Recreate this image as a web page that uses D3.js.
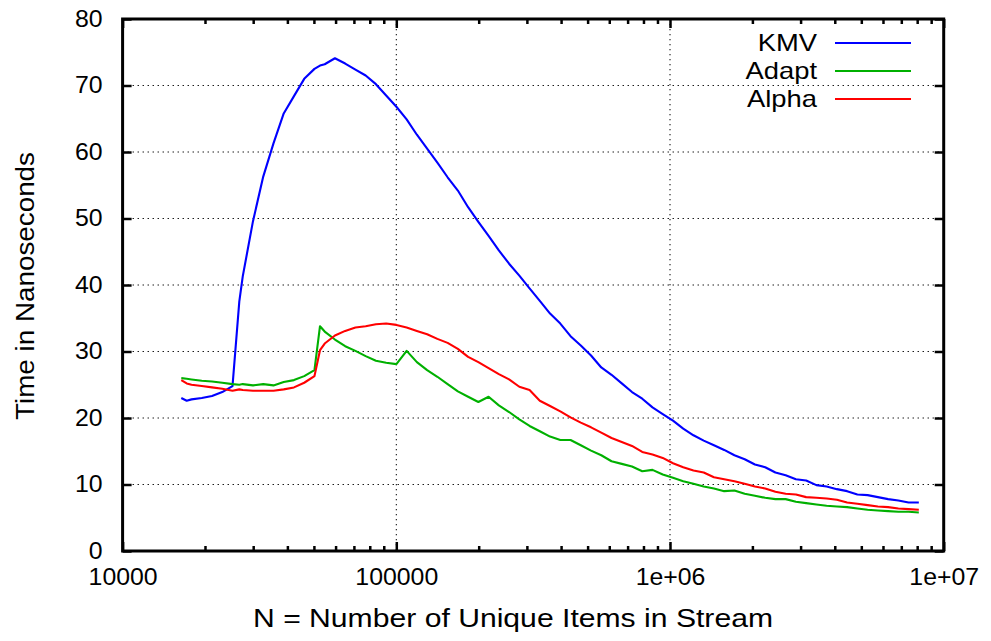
<!DOCTYPE html>
<html>
<head>
<meta charset="utf-8">
<script src="https://cdn.jsdelivr.net/npm/d3@7/dist/d3.min.js"></script>
<style>
  html, body { margin: 0; padding: 0; background: #fff; }
  svg { display: block; }
  text { font-family: "Liberation Sans", Arial, Helvetica, sans-serif; fill: #000; }
</style>
</head>
<body>
<svg id="chart" width="991" height="641"></svg>
<script>
// ---- data ----
const nValues = [16384, 17148, 17859, 19466, 21218, 23127, 25209, 26690, 27478, 29951,
  32646, 35584, 38787, 42278, 46083, 50230, 52630, 54751, 59678, 65050,
  70904, 77285, 84241, 91823, 100087, 109095, 118913, 129615, 141281, 153996,
  167855, 182962, 199429, 217378, 236942, 258266, 281510, 306846, 334463, 364564,
  397375, 433139, 472121, 514612, 560927, 611410, 666437, 726417, 791794, 863056,
  940731, 1025397, 1117682, 1218274, 1327918, 1447431, 1577700, 1719693, 1874465, 2043167,
  2227052, 2427487, 2645960, 2884097, 3143665, 3426595, 3734989, 4071138, 4437540, 4836919,
  5272242, 5746743, 6263950, 6827706, 7442199, 8111997];

const kmv = [23.0, 22.6, 22.8, 23.0, 23.3, 23.9, 24.8, 37.5, 41.3, 49.6,
  56.3, 61.3, 65.8, 68.4, 71.0, 72.5, 73.0, 73.2, 74.1, 73.3,
  72.4, 71.5, 70.2, 68.5, 66.8, 64.9, 62.6, 60.5, 58.4, 56.2,
  54.2, 51.7, 49.5, 47.4, 45.2, 43.2, 41.4, 39.5, 37.6, 35.7,
  34.2, 32.3, 30.9, 29.4, 27.6, 26.5, 25.2, 23.9, 22.9, 21.6,
  20.6, 19.6, 18.4, 17.4, 16.6, 15.9, 15.2, 14.4, 13.8, 13.0,
  12.6, 11.8, 11.4, 10.8, 10.6, 9.9, 9.7, 9.3, 9.0, 8.5,
  8.4, 8.1, 7.8, 7.6, 7.3, 7.3];

const adapt = [26.0, 25.9, 25.8, 25.6, 25.5, 25.3, 25.1, 25.0, 25.1, 24.9,
  25.1, 24.9, 25.4, 25.7, 26.3, 27.2, 33.8, 33.0, 31.8, 30.8,
  30.1, 29.3, 28.6, 28.3, 28.1, 30.1, 28.4, 27.2, 26.2, 25.1,
  24.0, 23.2, 22.4, 23.2, 21.9, 20.9, 19.8, 18.8, 18.0, 17.2,
  16.7, 16.7, 15.9, 15.1, 14.4, 13.5, 13.1, 12.7, 12.0, 12.2,
  11.5, 11.0, 10.5, 10.1, 9.7, 9.4, 9.0, 9.1, 8.6, 8.3,
  8.0, 7.8, 7.8, 7.4, 7.2, 7.0, 6.8, 6.7, 6.6, 6.4,
  6.2, 6.1, 6.0, 5.9, 5.9, 5.8];

const alpha = [25.7, 25.2, 25.0, 24.8, 24.6, 24.4, 24.1, 24.3, 24.2, 24.1,
  24.1, 24.1, 24.3, 24.6, 25.3, 26.3, 30.2, 31.2, 32.4, 33.1,
  33.6, 33.8, 34.1, 34.2, 34.0, 33.6, 33.1, 32.6, 31.9, 31.3,
  30.4, 29.2, 28.4, 27.5, 26.6, 25.8, 24.7, 24.2, 22.6, 21.8,
  21.0, 20.1, 19.3, 18.6, 17.8, 17.0, 16.4, 15.8, 14.9, 14.5,
  14.0, 13.2, 12.6, 12.1, 11.8, 11.1, 10.8, 10.5, 10.1, 9.7,
  9.4, 8.9, 8.6, 8.5, 8.1, 8.0, 7.9, 7.7, 7.3, 7.1,
  6.9, 6.7, 6.6, 6.4, 6.3, 6.2];

const seriesNames = ["KMV", "Adapt", "Alpha"];
const seriesColors = ["#0000ff", "#00b000", "#ff0000"];

const xTicks = [1e4, 1e5, 1e6, 1e7];
const xTickLabels = ["10000", "100000", "1e+06", "1e+07"];
const xMinorTicks = [2e4,3e4,4e4,5e4,6e4,7e4,8e4,9e4, 2e5,3e5,4e5,5e5,6e5,7e5,8e5,9e5, 2e6,3e6,4e6,5e6,6e6,7e6,8e6,9e6];
const yTicks = [0, 10, 20, 30, 40, 50, 60, 70, 80];
const xGrid = [1e5, 1e6];
const yGrid = [10, 20, 30, 40, 50, 60, 70];

// ---- layout ----
const L = 122.6, R = 943.7, T = 19, B = 551;
const svg = d3.select("#chart");
const x = d3.scaleLog().domain([1e4, 1e7]).range([L, R]);
const y = d3.scaleLinear().domain([0, 80]).range([B, T]);

// widen glyphs a little, as in the reference rendering
function widen(sel, factor) {
  sel.each(function () {
    const w = this.getComputedTextLength();
    d3.select(this).attr("textLength", w * factor).attr("lengthAdjust", "spacingAndGlyphs");
  });
}

// grid
const grid = svg.append("g").attr("stroke", "#000").attr("stroke-width", 1)
  .attr("stroke-dasharray", "1.3,3.7").attr("fill", "none");
grid.selectAll("line.gy").data(yGrid).join("line").attr("class", "gy")
  .attr("x1", L).attr("x2", R).attr("y1", d => y(d)).attr("y2", d => y(d));
grid.selectAll("line.gx").data(xGrid).join("line").attr("class", "gx")
  .attr("y1", T).attr("y2", B).attr("x1", d => x(d)).attr("x2", d => x(d));

// data lines
const allSeries = [kmv, adapt, alpha];
const line = d3.line().x(d => x(d[0])).y(d => y(d[1]));
svg.append("g").selectAll("path").data(allSeries).join("path")
  .attr("fill", "none")
  .attr("stroke", (d, i) => seriesColors[i])
  .attr("stroke-width", 2.1)
  .attr("stroke-linejoin", "round")
  .attr("d", s => line(nValues.map((n, i) => [n, s[i]])));

// axes
function styleAxis(g) {
  g.select(".domain").remove();
  g.selectAll(".tick line").attr("stroke", "#000").attr("stroke-width", 2.5);
}
svg.append("g").attr("transform", `translate(0,${B})`)
  .call(d3.axisBottom(x).tickValues(xTicks).tickSize(-9).tickPadding(18)
    .tickFormat((d, i) => xTickLabels[i]))
  .call(styleAxis)
  .call(g => g.selectAll("text").attr("font-size", 23).style("font-family", "Liberation Sans, Arial, sans-serif"))
  .call(g => widen(g.selectAll("text"), 1.08));
svg.append("g").attr("transform", `translate(0,${B})`)
  .call(d3.axisBottom(x).tickValues(xMinorTicks).tickSize(-5).tickFormat(""))
  .call(styleAxis);
svg.append("g").attr("transform", `translate(0,${T})`)
  .call(d3.axisTop(x).tickValues(xTicks).tickSize(-9).tickFormat(""))
  .call(styleAxis);
svg.append("g").attr("transform", `translate(0,${T})`)
  .call(d3.axisTop(x).tickValues(xMinorTicks).tickSize(-5).tickFormat(""))
  .call(styleAxis);
svg.append("g").attr("transform", `translate(${L},0)`)
  .call(d3.axisLeft(y).tickValues(yTicks).tickSize(-9).tickPadding(20).tickFormat(d3.format("d")))
  .call(styleAxis)
  .call(g => g.selectAll("text").attr("font-size", 23).style("font-family", "Liberation Sans, Arial, sans-serif"))
  .call(g => widen(g.selectAll("text"), 1.08));
svg.append("g").attr("transform", `translate(${R},0)`)
  .call(d3.axisRight(y).tickValues(yTicks).tickSize(-9).tickFormat(""))
  .call(styleAxis);

// frame
svg.append("rect").attr("x", L).attr("y", T).attr("width", R - L).attr("height", B - T)
  .attr("fill", "none").attr("stroke", "#000").attr("stroke-width", 3);

// titles
svg.append("text").attr("x", 513).attr("y", 627).attr("text-anchor", "middle")
  .attr("font-size", 25).attr("textLength", 520).attr("lengthAdjust", "spacingAndGlyphs")
  .text("N = Number of Unique Items in Stream");
svg.append("text").attr("transform", "translate(34,286) rotate(-90)").attr("text-anchor", "middle")
  .attr("font-size", 25).attr("textLength", 268).attr("lengthAdjust", "spacingAndGlyphs")
  .text("Time in Nanoseconds");

// legend
const legend = svg.append("g").selectAll("g").data(seriesNames).join("g")
  .attr("transform", (d, i) => `translate(0,${43 + i * 28})`);
legend.append("text").attr("x", 817).attr("y", 0).attr("dy", "0.35em").attr("text-anchor", "end")
  .attr("font-size", 24).text(d => d)
  .call(sel => widen(sel, 1.14));
legend.append("line").attr("x1", 835).attr("x2", 911).attr("y1", 0).attr("y2", 0)
  .attr("stroke", (d, i) => seriesColors[i]).attr("stroke-width", 2.1);
</script>
</body>
</html>
